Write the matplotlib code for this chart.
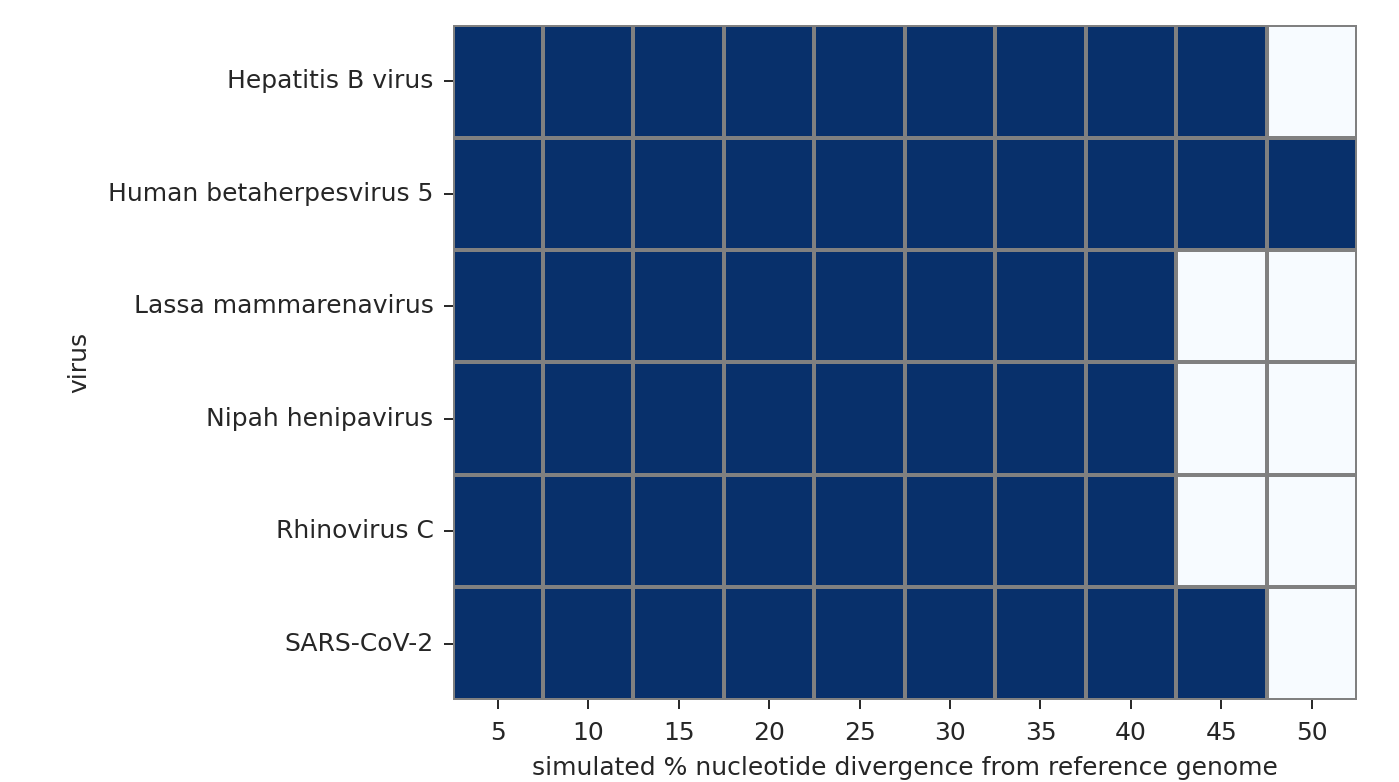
import numpy as np
import pandas as pd
import matplotlib
matplotlib.use("Agg")
import matplotlib.pyplot as plt
import seaborn as sns

viruses = ['Hepatitis B virus', 'Human betaherpesvirus 5', 'Lassa mammarenavirus',
           'Nipah henipavirus', 'Rhinovirus C', 'SARS-CoV-2']
divergence = [5, 10, 15, 20, 25, 30, 35, 40, 45, 50]

# 1 = detected, 0 = not detected
hbv = [1, 1, 1, 1, 1, 1, 1, 1, 1, 0]
hcmv = [1, 1, 1, 1, 1, 1, 1, 1, 1, 1]
lassa = [1, 1, 1, 1, 1, 1, 1, 1, 0, 0]
nipah = [1, 1, 1, 1, 1, 1, 1, 1, 0, 0]
rhino = [1, 1, 1, 1, 1, 1, 1, 1, 0, 0]
sars = [1, 1, 1, 1, 1, 1, 1, 1, 1, 0]

df = pd.DataFrame([hbv, hcmv, lassa, nipah, rhino, sars], index=viruses, columns=divergence)
df.index.name = 'virus'

plt.rcParams['font.family'] = ['DejaVu Sans']
plt.rcParams['font.size'] = 18

fig = plt.figure(figsize=(13.99, 7.82), dpi=100)
ax = fig.add_axes([0.3235, 0.105, 0.6465, 0.863])
sns.heatmap(df, cmap='Blues', vmin=0, vmax=1, cbar=False, linewidths=1.6,
            linecolor='gray', ax=ax)
ax.set_xlabel('simulated % nucleotide divergence from reference genome',
              color='#262626', labelpad=8)
ax.set_ylabel('virus', color='#262626', labelpad=12)
ax.tick_params(axis='both', colors='#262626', labelsize=18, length=6.3,
               width=1.4, pad=6.3)
ax.tick_params(axis='x', pad=9)
ax.tick_params(axis='y', pad=7.5)
plt.setp(ax.get_yticklabels(), rotation=0)
plt.setp(ax.get_xticklabels(), rotation=0)

fig.savefig('out.png', dpi=100)
